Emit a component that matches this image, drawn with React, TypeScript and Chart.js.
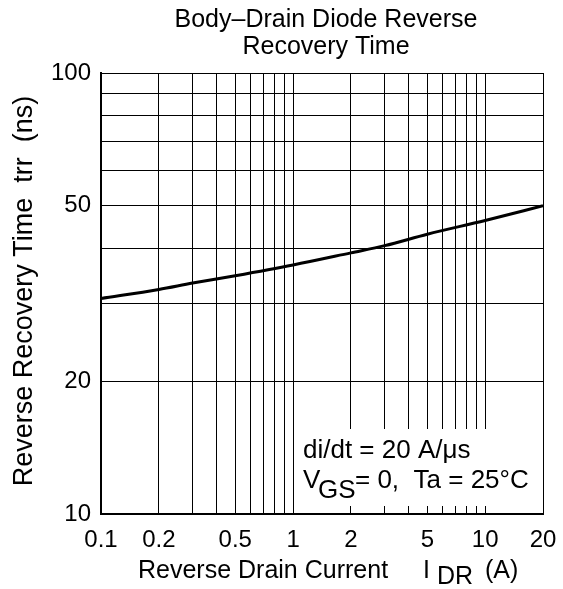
import React, { useEffect, useRef } from "react";
import { Chart, registerables } from "chart.js";
Chart.register(...registerables);

// Reverse drain current (A) and reverse recovery time (ns)
const currentA = [0.1, 0.2, 0.3, 0.5, 1, 2, 3, 5, 10, 20];
const trrNs = [30.8, 32.3, 33.4, 34.7, 36.7, 39.1, 40.6, 43.1, 46.3, 50];

const xGrid = [0.1, 0.2, 0.3, 0.4, 0.5, 0.6, 0.7, 0.8, 0.9, 1, 2, 3, 4, 5, 6, 7, 8, 9, 10, 20];
const xLabels = [0.1, 0.2, 0.5, 1, 2, 5, 10, 20];
const yGrid = [10, 20, 30, 40, 50, 60, 70, 80, 90, 100];
const yLabels = [10, 20, 50, 100];

const titleLines = ["Body\u2013Drain Diode Reverse", "Recovery Time"];
const yTitle = "Reverse Recovery Time  trr  (ns)";
const FONT = '"Liberation Sans", Arial, sans-serif';

const textPlugin = {
  id: "texts",
  afterDatasetsDraw(chart: any) {
    const { ctx, chartArea: a } = chart;
    ctx.save();
    // annotation box (white background)
    const bx = a.right - 243;
    const by = a.bottom - 85;
    ctx.fillStyle = "#fff";
    ctx.fillRect(bx, by, a.right - 1 - bx, 77);
    ctx.fillStyle = "#000";
    ctx.textBaseline = "alphabetic";
    ctx.textAlign = "left";
    ctx.font = `26px ${FONT}`;
    ctx.fillText("di/dt = 20 A/\u03bcs", bx + 3, by + 29);
    ctx.fillText("V", bx + 3, by + 59);
    ctx.fillText("GS", bx + 18, by + 69);
    ctx.fillText("= 0,  Ta = 25\u00b0C", bx + 55, by + 59);

    // title
    ctx.textAlign = "center";
    ctx.font = `25px ${FONT}`;
    const cx = (a.left + a.right) / 2 + 4;
    ctx.fillText(titleLines[0], cx, 27);
    ctx.fillText(titleLines[1], cx, 53.5);

    // x title
    ctx.textAlign = "left";
    ctx.fillText("Reverse Drain Current", 138, 578);
    ctx.fillText("I", 423, 578);
    ctx.fillText("DR", 437, 584);
    ctx.fillText("(A)", 485, 578);

    // y title
    ctx.save();
    ctx.font = `27px ${FONT}`;
    ctx.translate(32, 291);
    ctx.rotate(-Math.PI / 2);
    ctx.textAlign = "center";
    ctx.fillText(yTitle, 0, 0);
    ctx.restore();
    ctx.restore();
  },
};

export default function App() {
  const ref = useRef<HTMLCanvasElement>(null);
  useEffect(() => {
    if (!ref.current) return;
    const chart = new Chart(ref.current, {
      type: "line",
      data: {
        datasets: [
          {
            data: currentA.map((x, i) => ({ x, y: trrNs[i] })),
            borderColor: "#000",
            borderWidth: 3,
            pointRadius: 0,
            fill: false,
            cubicInterpolationMode: "monotone",
          },
        ],
      },
      options: {
        animation: false,
        responsive: false,
        devicePixelRatio: 1,
        layout: { padding: { left: 0, right: 20, top: 73, bottom: 0 } },
        plugins: { legend: { display: false }, tooltip: { enabled: false }, title: { display: false } },
        scales: {
          x: {
            type: "logarithmic",
            min: 0.1,
            max: 20,
            afterBuildTicks: (s: any) => {
              s.ticks = xGrid.map((v) => ({ value: v }));
            },
            afterFit: (s: any) => {
              s.height = 75;
              s.paddingLeft = 0;
              s.paddingRight = 0;
            },
            ticks: {
              autoSkip: false,
              maxRotation: 0,
              padding: 12,
              color: "#000",
              font: { family: FONT, size: 24 },
              callback: (v: any) => (xLabels.includes(Number(v)) ? String(v) : ""),
            },
            grid: { color: "#000", lineWidth: 1, drawTicks: false },
            border: { color: "#000", width: 2 },
          },
          y: {
            type: "logarithmic",
            min: 10,
            max: 100,
            afterBuildTicks: (s: any) => {
              s.ticks = yGrid.map((v) => ({ value: v }));
            },
            afterFit: (s: any) => {
              s.width = 101;
              s.paddingTop = 0;
              s.paddingBottom = 0;
            },
            ticks: {
              autoSkip: false,
              padding: 10,
              color: "#000",
              font: { family: FONT, size: 24 },
              callback: (v: any) => (yLabels.includes(Number(v)) ? String(v) : ""),
            },
            grid: { color: "#000", lineWidth: 1, drawTicks: false },
            border: { color: "#000", width: 2 },
          },
        },
      },
      plugins: [textPlugin],
    } as any);
    return () => chart.destroy();
  }, []);
  return (
    <div style={{ position: "fixed", left: 0, top: 0, width: 563, height: 589, background: "#fff" }}>
      <canvas ref={ref} width={563} height={589} />
    </div>
  );
}
